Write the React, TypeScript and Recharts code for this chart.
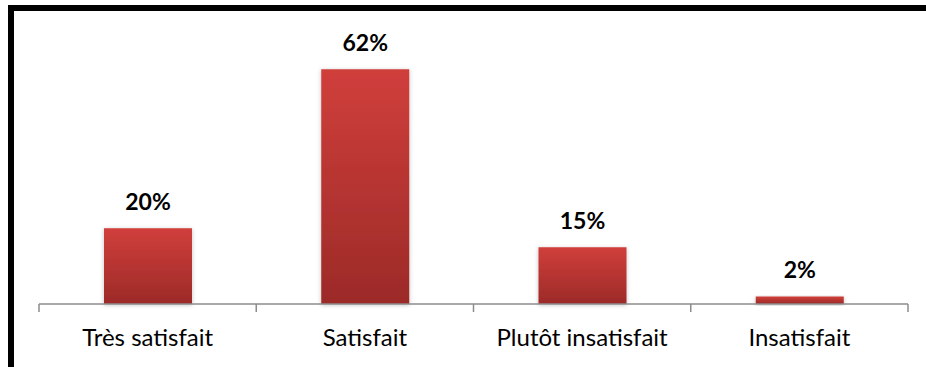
import React from 'react'
import { BarChart, Bar, XAxis, YAxis, LabelList } from 'recharts'

const categories = ['Très satisfait', 'Satisfait', 'Plutôt insatisfait', 'Insatisfait']
const percents = [20, 62, 15, 2]

const data = categories.map((name, i) => ({ name, value: percents[i] }))

const AXIS_GREY = '#8c8c8c'

// category label plus the small tick marks on the category boundaries
function CategoryTick(props: any) {
  const { x, y, payload, index, visibleTicksCount } = props
  const half = payload.offset || 0
  const isLast = index === visibleTicksCount - 1
  return (
    <g>
      <line x1={x - half} x2={x - half} y1={y} y2={y + 8} stroke={AXIS_GREY} strokeWidth={1.5} />
      {isLast && <line x1={x + half} x2={x + half} y1={y} y2={y + 8} stroke={AXIS_GREY} strokeWidth={1.5} />}
      <text x={x} y={y + 42} textAnchor="middle" fill="#000" fontSize={24} fontFamily="Lato, sans-serif">
        {payload.value}
      </text>
    </g>
  )
}

export default function App() {
  return (
    <div style={{ position: 'absolute', left: 0, top: 0, width: 926, height: 367, background: '#fff', overflow: 'hidden' }}>
      <BarChart width={926} height={367} data={data} margin={{ top: 39, right: 18, bottom: 0, left: 39 }}>
        <defs>
          <linearGradient id="barFill" x1="0" y1="0" x2="0" y2="1">
            <stop offset="0%" stopColor="#d03f3b" />
            <stop offset="100%" stopColor="#9c2a28" />
          </linearGradient>
          <filter id="barShadow" x="-10%" y="-10%" width="120%" height="130%">
            <feDropShadow dx="0" dy="1" stdDeviation="2" floodColor="#000" floodOpacity="0.25" />
          </filter>
        </defs>
        <XAxis
          dataKey="name"
          height={63}
          axisLine={{ stroke: AXIS_GREY, strokeWidth: 1.5 }}
          tickLine={false}
          tickSize={0}
          tickMargin={0}
          interval={0}
          tick={<CategoryTick />}
        />
        <YAxis hide domain={[0, 70]} />
        <Bar dataKey="value" barSize={88} fill="url(#barFill)" filter="url(#barShadow)" isAnimationActive={false}>
          <LabelList
            dataKey="value"
            position="top"
            offset={18}
            formatter={(v: any) => `${v}%`}
            style={{ fill: '#000', fontSize: 23, fontWeight: 700, fontFamily: 'Lato, sans-serif' }}
          />
        </Bar>
      </BarChart>
      <div
        style={{
          position: 'absolute',
          left: 8,
          top: 5,
          width: 940,
          height: 380,
          borderTop: '6px solid #000',
          borderLeft: '6px solid #000',
          pointerEvents: 'none',
        }}
      />
    </div>
  )
}
